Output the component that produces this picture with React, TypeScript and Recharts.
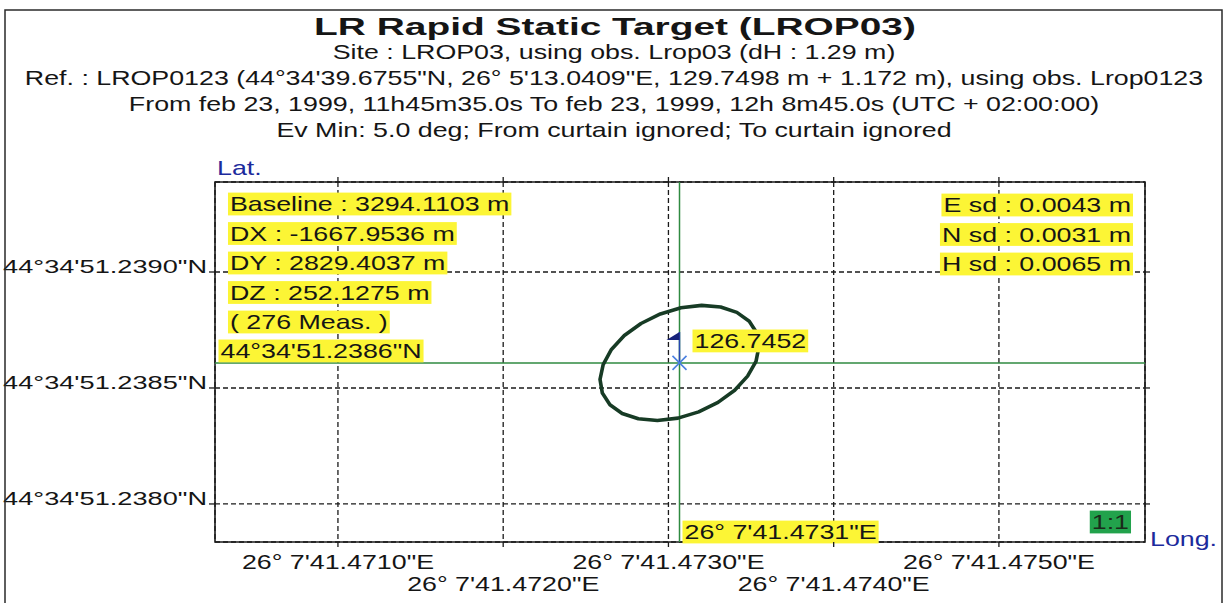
import { useLayoutEffect, useRef, useState } from "react";
import {
  ComposedChart,
  XAxis,
  YAxis,
  CartesianGrid,
  ReferenceArea,
  ReferenceLine,
  Scatter,
} from "recharts";

const FONT = "'Liberation Sans', Arial, sans-serif";
const SX = 1.34; // the scan is stretched horizontally

const title = "LR Rapid Static Target (LROP03)";
const subtitleLines = [
  "Site : LROP03, using obs. Lrop03 (dH : 1.29 m)",
  "Ref. : LROP0123 (44°34'39.6755\"N, 26° 5'13.0409\"E, 129.7498 m + 1.172 m), using obs. Lrop0123",
  "From feb 23, 1999, 11h45m35.0s To feb 23, 1999, 12h 8m45.0s (UTC + 02:00:00)",
  "Ev Min: 5.0 deg; From curtain ignored; To curtain ignored",
];
const leftInfo = [
  "Baseline : 3294.1103 m",
  "DX : -1667.9536 m",
  "DY : 2829.4037 m",
  "DZ : 252.1275 m",
  "( 276 Meas. )",
];
const rightInfo = ["E sd : 0.0043 m", "N sd : 0.0031 m", "H sd : 0.0065 m"];

// seconds of arc; lon = 26° 7' + s, lat = 44°34' + s
const lonPrefix = "26° 7'";
const latPrefix = "44°34'";
const lonTicks = [41.471, 41.472, 41.473, 41.474, 41.475];
const latTicks = [51.238, 51.2385, 51.239];
const lonDomain = [41.470256, 41.475884];
const latDomain = [51.237836, 51.239388];

const station = [{ lon: 41.473067, lat: 51.238608, h: 126.7452 }];

// error ellipse outline
const ellipseLon = [
  41.473534, 41.473489, 41.473414, 41.473316, 41.473201, 41.473076, 41.472951, 41.472834,
  41.472733, 41.472655, 41.472605, 41.472586, 41.4726, 41.472646, 41.47272, 41.472818,
  41.472933, 41.473058, 41.473183, 41.4733, 41.473401, 41.473479, 41.47353, 41.473548,
];
const ellipseLat = [
  51.238738, 51.238788, 51.238826, 51.238849, 51.238856, 51.238846, 51.238819, 51.238778,
  51.238726, 51.238666, 51.238601, 51.238537, 51.238478, 51.238428, 51.23839, 51.238367,
  51.23836, 51.23837, 51.238397, 51.238438, 51.23849, 51.238551, 51.238615, 51.238679,
];

const ellipseData = ellipseLon.map((lon, i) => ({ lon, lat: ellipseLat[i] }));
ellipseData.push(ellipseData[0]);

const YELLOW = "#fcf535";
const INK = "#1a1a1a";

function HiText({ x, y, text, anchor = "start", fill = YELLOW, color = "#151515", size = 20, sx = SX, pad = 1.5 }: any) {
  const ref = useRef<SVGTextElement>(null);
  const [w, setW] = useState(0);
  useLayoutEffect(() => {
    if (ref.current) setW(ref.current.getBBox().width);
  }, [text]);
  const left = anchor === "end" ? -w : 0;
  return (
    <g transform={`translate(${x},${y}) scale(${sx},1)`}>
      {w > 0 && fill !== "none" && (
        <rect x={left - pad} y={-size * 0.92} width={w + pad * 2} height={size * 1.14} fill={fill} />
      )}
      <text ref={ref} x={0} y={0} textAnchor={anchor} fontFamily={FONT} fontSize={size} fill={color}>
        {text}
      </text>
    </g>
  );
}

const LonTick = ({ x, y, payload, index }: any) => (
  <g transform={`translate(${x},${y}) scale(${SX},1)`}>
    <text x={0} y={index % 2 === 0 ? 20 : 42} textAnchor="middle" fontFamily={FONT} fontSize={20} fill="#151515">
      {`${lonPrefix}${payload.value.toFixed(4)}"E`}
    </text>
  </g>
);

const LatTick = ({ x, y, payload }: any) => (
  <g transform={`translate(${x},${y}) scale(1.43,1)`}>
    <text x={0} y={1} textAnchor="end" fontFamily={FONT} fontSize={19} fill="#151515">
      {`${latPrefix}${payload.value.toFixed(4)}"N`}
    </text>
  </g>
);

const NoTick = () => <g />;

const StationMark = ({ cx, cy, payload }: any) => (
  <g>
    <line x1={cx} y1={cy - 31} x2={cx} y2={cy} stroke="#2747b0" strokeWidth={1.5} />
    <polygon points={`${cx},${cy - 31} ${cx},${cy - 23} ${cx - 13},${cy - 23}`} fill="#16227a" />
    <line x1={cx - 7} y1={cy - 7} x2={cx + 7} y2={cy + 7} stroke="#4a80e0" strokeWidth={1.6} />
    <line x1={cx - 7} y1={cy + 7} x2={cx + 7} y2={cy - 7} stroke="#4a80e0" strokeWidth={1.6} />
    <HiText x={cx + 15} y={cy - 15} text={payload.h.toFixed(4)} />
  </g>
);

export default function App() {
  const lat0 = station[0].lat;
  const lon0 = station[0].lon;
  return (
    <div style={{ position: "absolute", left: 0, top: 0, width: 1228, height: 603, background: "#fff", overflow: "hidden" }}>
      <ComposedChart width={1228} height={603} margin={{ top: 181, right: 82, bottom: 0, left: 15 }}>
        <CartesianGrid stroke={INK} strokeWidth={1.3} strokeDasharray="5 3" />
        <XAxis
          type="number"
          dataKey="lon"
          domain={lonDomain}
          ticks={lonTicks}
          allowDataOverflow
          interval={0}
          height={61}
          tickSize={5}
          tickMargin={2}
          axisLine={false}
          tickLine={{ stroke: INK, strokeWidth: 1.3 }}
          tick={<LonTick />}
        />
        <XAxis
          xAxisId="top"
          orientation="top"
          type="number"
          dataKey="lon"
          domain={lonDomain}
          ticks={lonTicks}
          allowDataOverflow
          interval={0}
          height={1}
          tickSize={5}
          axisLine={false}
          tickLine={{ stroke: INK, strokeWidth: 1.3, strokeDasharray: "5 3" }}
          tick={<NoTick />}
        />
        <YAxis
          type="number"
          dataKey="lat"
          domain={latDomain}
          ticks={latTicks}
          allowDataOverflow
          interval={0}
          width={200}
          tickSize={6}
          tickMargin={2}
          axisLine={false}
          tickLine={{ stroke: INK, strokeWidth: 1.3 }}
          tick={<LatTick />}
        />
        <YAxis
          yAxisId="right"
          orientation="right"
          type="number"
          dataKey="lat"
          domain={latDomain}
          ticks={latTicks}
          allowDataOverflow
          interval={0}
          width={1}
          tickSize={5}
          axisLine={false}
          tickLine={{ stroke: INK, strokeWidth: 1.3 }}
          tick={<NoTick />}
        />
        <ReferenceArea
          x1={lonDomain[0]}
          x2={lonDomain[1]}
          y1={latDomain[0]}
          y2={latDomain[1]}
          fill="none"
          stroke={INK}
          strokeWidth={1.6}
          ifOverflow="visible"
        />
        <ReferenceLine
          y={lat0}
          stroke="#2f8a40"
          strokeWidth={1.5}
          label={(p: any) => (
            <HiText x={p.viewBox.x + 5.5} y={p.viewBox.y - 5} text={`${latPrefix}${lat0.toFixed(4)}"N`} />
          )}
        />
        <ReferenceLine
          x={lon0}
          stroke="#2f8a40"
          strokeWidth={1.5}
          label={(p: any) => (
            <HiText
              x={p.viewBox.x + 5}
              y={p.viewBox.y + p.viewBox.height - 3}
              text={`${lonPrefix}${lon0.toFixed(4)}"E`}
            />
          )}
        />
        <Scatter
          data={ellipseData}
          line={{ stroke: "#173b25", strokeWidth: 3.6, strokeLinejoin: "round" }}
          lineType="joint"
          shape={() => <g />}
          isAnimationActive={false}
        />
        <Scatter data={station} shape={<StationMark />} isAnimationActive={false} />
      </ComposedChart>

      <svg width={1228} height={603} style={{ position: "absolute", left: 0, top: 0, pointerEvents: "none" }}>
        <rect x={5} y={10} width={1217} height={610} fill="none" stroke="#2a2a2a" strokeWidth={1.5} />
        <g transform={`translate(615,35) scale(1.62,1)`}>
          <text textAnchor="middle" fontFamily={FONT} fontSize={24} fontWeight="bold" fill="#151515">
            {title}
          </text>
        </g>
        {subtitleLines.map((s, i) => (
          <g key={s} transform={`translate(614,${58.5 + i * 26.3}) scale(${SX},1)`}>
            <text textAnchor="middle" fontFamily={FONT} fontSize={20} fill="#151515">
              {s}
            </text>
          </g>
        ))}
        <HiText x={217} y={175} text="Lat." fill="none" color="#1c2a9c" />
        <HiText x={1150} y={546} text="Long." fill="none" color="#1c2a9c" />
        {leftInfo.map((s, i) => (
          <HiText key={s} x={230} y={211 + i * 29.5} text={s} />
        ))}
        {rightInfo.map((s, i) => (
          <HiText key={s} x={1131} y={212 + i * 29.5} text={s} anchor="end" />
        ))}
        <HiText x={1129} y={529} text="1:1" anchor="end" fill="#22a24c" color="#1a2a1a" />
      </svg>
    </div>
  );
}
